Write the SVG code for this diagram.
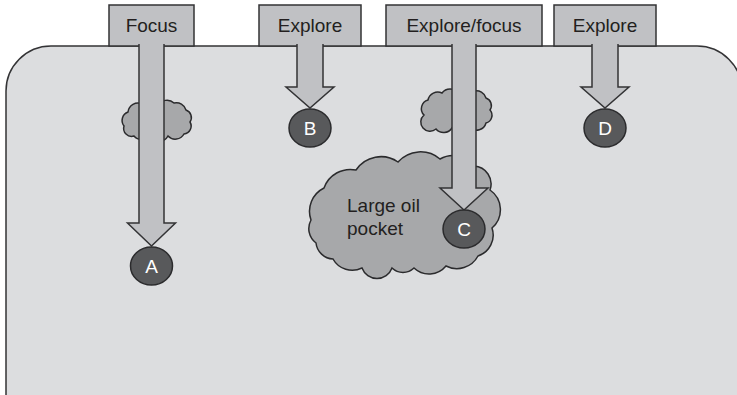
<svg xmlns="http://www.w3.org/2000/svg" width="737" height="395" viewBox="0 0 737 395">
  <style>
    .ground { fill: #dcdddf; stroke: #333335; stroke-width: 1.5; }
    .box { fill: #c0c1c4; stroke: #333335; stroke-width: 1.5; }
    .shaft { fill: #c0c1c4; stroke: #333335; stroke-width: 1.5; stroke-linejoin: miter; }
    .cloud { fill: #a7a8aa; stroke: #2b2b2d; stroke-width: 1.5; }
    .well { fill: #58595b; stroke: #2b2b2d; stroke-width: 1.5; }
    .label { font-family: "Liberation Sans", Arial, sans-serif; font-size: 19px; fill: #231f20; }
    .mark { font-family: "Liberation Sans", Arial, sans-serif; font-size: 19px; fill: #ffffff; text-anchor: middle; }
  </style>

  <!-- ground block -->
  <path class="ground" d="M6,400 V91 A45,45 0 0 1 51,46 H697 A45,45 0 0 1 742,91 V400 Z"/>

  <!-- oil pockets -->
  <g id="pocket-small-1">
    <path class="cloud" d="M124,126 A9,9 0 0 1 128,112 A10,10 0 0 1 142,104 A10,10 0 0 1 158,106 A10,10 0 0 1 174,103 A10,10 0 0 1 186,110 A8,8 0 0 1 190,122 A8,8 0 0 1 184,134 A10,10 0 0 1 168,136 A10,10 0 0 1 150,135 A10,10 0 0 1 134,136 A8,8 0 0 1 124,126 Z"/>
  </g>
  <g id="pocket-small-2">
    <path class="cloud" d="M424,115 A9,9 0 0 1 428,100 A10,10 0 0 1 442,93 A10,10 0 0 1 458,93 A10,10 0 0 1 474,91 A10,10 0 0 1 486,98 A8,8 0 0 1 490,110 A8,8 0 0 1 486,123 A10,10 0 0 1 470,128 A10,10 0 0 1 452,128 A10,10 0 0 1 436,129 A8,8 0 0 1 424,115 Z"/>
  </g>
  <g id="pocket-large">
    <path class="cloud" d="M311,220 A26,26 0 0 1 324,188 A28,28 0 0 1 356,170 A30,30 0 0 1 398,162 A30,30 0 0 1 440,159 A26,26 0 0 1 474,166 A18,18 0 0 1 490,190 A24,24 0 0 1 492,228 A22,22 0 0 1 478,256 A24,24 0 0 1 446,266 A22,22 0 0 1 414,268 A16,16 0 0 1 392,268 A16,16 0 0 1 362,268 A22,22 0 0 1 333,259 A18,18 0 0 1 316,243 A18,18 0 0 1 311,220 Z"/>
    <text class="label" x="347" y="212">Large oil</text>
    <text class="label" x="347" y="235">pocket</text>
  </g>

  <!-- strategy labels -->
  <g id="label-focus">
    <rect class="box" x="109" y="5" width="85" height="41"/>
    <text class="label" x="151.5" y="32" text-anchor="middle">Focus</text>
  </g>
  <g id="label-explore-b">
    <rect class="box" x="259" y="5" width="102" height="41"/>
    <text class="label" x="310" y="32" text-anchor="middle">Explore</text>
  </g>
  <g id="label-explore-focus">
    <rect class="box" x="386" y="5" width="156" height="41"/>
    <text class="label" x="464" y="32" text-anchor="middle">Explore/focus</text>
  </g>
  <g id="label-explore-d">
    <rect class="box" x="554" y="5" width="102" height="41"/>
    <text class="label" x="605" y="32" text-anchor="middle">Explore</text>
  </g>

  <!-- drilling arrows -->
  <g id="connectors">
    <path class="shaft" d="M139,44 V223 H127.5 L151.5,246 L175.5,223 H164 V44"/>
    <path class="shaft" d="M297,44 V87 H286 L310,108 L334,87 H323 V44"/>
    <path class="shaft" d="M452,44 V188 H440 L464,210 L488,188 H476 V44"/>
    <path class="shaft" d="M592,44 V87 H581 L605,108 L629,87 H618 V44"/>
  </g>

  <!-- wells -->
  <g id="well-a">
    <ellipse class="well" cx="151.5" cy="266" rx="21" ry="19"/>
    <text class="mark" x="151.5" y="273">A</text>
  </g>
  <g id="well-b">
    <ellipse class="well" cx="310" cy="128" rx="21" ry="19"/>
    <text class="mark" x="310" y="135">B</text>
  </g>
  <g id="well-c">
    <ellipse class="well" cx="464" cy="229" rx="21" ry="19"/>
    <text class="mark" x="464" y="236">C</text>
  </g>
  <g id="well-d">
    <ellipse class="well" cx="605" cy="128" rx="21" ry="19"/>
    <text class="mark" x="605" y="135">D</text>
  </g>
</svg>
